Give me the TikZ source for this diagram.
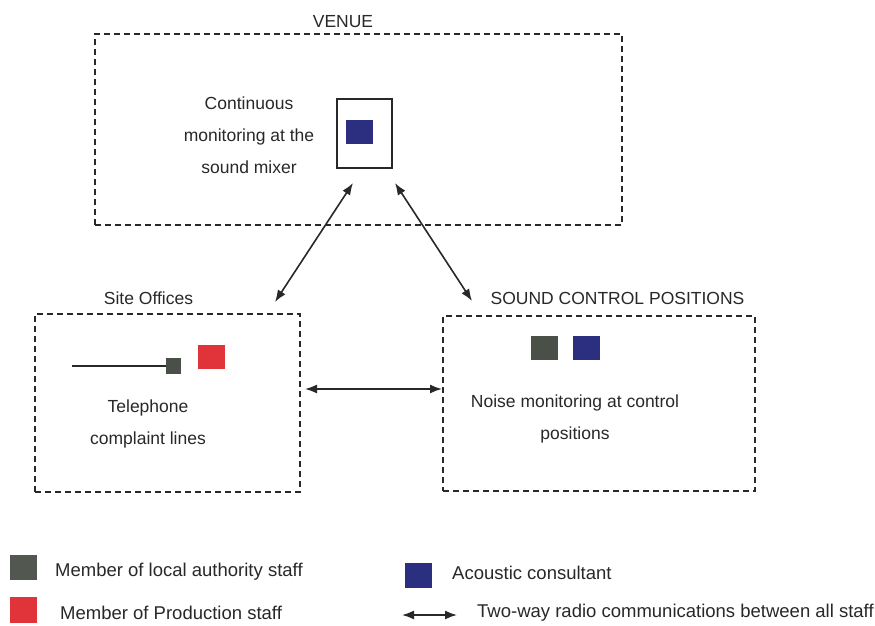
\documentclass[tikz,border=0pt]{standalone}
\usepackage{fontspec}
\setmainfont{Liberation Sans}
\usetikzlibrary{arrows.meta}
\definecolor{ink}{RGB}{40,40,40}
\definecolor{consultant}{RGB}{44,46,128}
\definecolor{council}{RGB}{74,80,72}
\definecolor{production}{RGB}{224,52,58}
\tikzset{
  zone/.style={draw=ink,line width=1.3pt,dash pattern=on 6pt off 4pt,inner sep=0pt},
  caption/.style={text=ink,font=\fontsize{17.5}{32}\selectfont,align=center,inner sep=0pt},
  legendtext/.style={text=ink,font=\fontsize{18.5}{22}\selectfont,anchor=west,inner sep=0pt},
  staff/.style={inner sep=0pt,minimum width=27pt,minimum height=24pt},
  radio/.style={{Latex[length=12pt,width=9pt]}-{Latex[length=12pt,width=9pt]},draw=ink,line width=1.6pt}
}
\begin{document}
\begin{tikzpicture}[x=1pt,y=-1pt]
  \useasboundingbox (0,0) rectangle (875,626);
  % Zones
  \node[zone,minimum width=527pt,minimum height=191pt](venue) at (358.5,129.5){};
  \node[zone,minimum width=265pt,minimum height=178pt](site) at (167.5,403){};
  \node[zone,minimum width=312pt,minimum height=175pt](sound) at (599,403.5){};
  \node[caption](venuelabel) at (343,22){VENUE};
  \node[caption](sitelabel) at (148.5,298){Site Offices};
  \node[caption](soundlabel) at (617.5,298){SOUND CONTROL POSITIONS};
  % Venue
  \node[draw=ink,line width=1.4pt,minimum width=55pt,minimum height=69pt,inner sep=0pt](mixer) at (364.5,133.5){};
  \node[staff,fill=consultant](mixerstaff) at (359.5,132){};
  \node[caption](mixertext) at (249,135){Continuous\\monitoring at the\\sound mixer};
  % Site offices
  \coordinate (phone) at (72,366);
  \node[inner sep=0pt,minimum width=15pt,minimum height=16pt,fill=council](phonestaff) at (173.5,366){};
  \draw[ink,line width=1.1pt](phone)--(phonestaff.west);
  \node[staff,fill=production](prodstaff) at (211.5,357){};
  \node[caption](phonetext) at (148,424){Telephone\\complaint lines};
  % Sound control positions
  \node[staff,fill=council](soundcouncil) at (544.5,347.5){};
  \node[staff,fill=consultant](soundconsultant) at (586,347.5){};
  \node[caption](soundtext) at (575,419){Noise monitoring at control\\positions};
  % Radio links
  \coordinate (mixL) at (353,183);
  \coordinate (mixR) at (395,183);
  \coordinate (siteN) at (275,302);
  \coordinate (soundN) at (472,301);
  \coordinate (siteE) at (305,389);
  \coordinate (soundW) at (442,389);
  \draw[radio](mixL)--(siteN);
  \draw[radio](mixR)--(soundN);
  \draw[radio](siteE)--(soundW);
  % Legend
  \node[staff,minimum width=27pt,minimum height=25pt,fill=council!85!gray](keycouncil) at (23.5,567.5){};
  \node[legendtext](keycounciltext) at (55,572){Member of local authority staff};
  \node[staff,minimum width=27pt,minimum height=26pt,fill=production](keyprod) at (23.5,610){};
  \node[legendtext](keyprodtext) at (60,613){Member of Production staff};
  \node[staff,minimum width=27pt,minimum height=25pt,fill=consultant](keyconsultant) at (418.5,575.5){};
  \node[legendtext](keyconsultanttext) at (452,573){Acoustic consultant};
  \coordinate (keyL) at (402,615);
  \coordinate (keyR) at (457,615);
  \draw[radio](keyL)--(keyR);
  \node[legendtext](keyradiotext) at (477,613){Two-way radio communications between all staff};
\end{tikzpicture}
\end{document}
